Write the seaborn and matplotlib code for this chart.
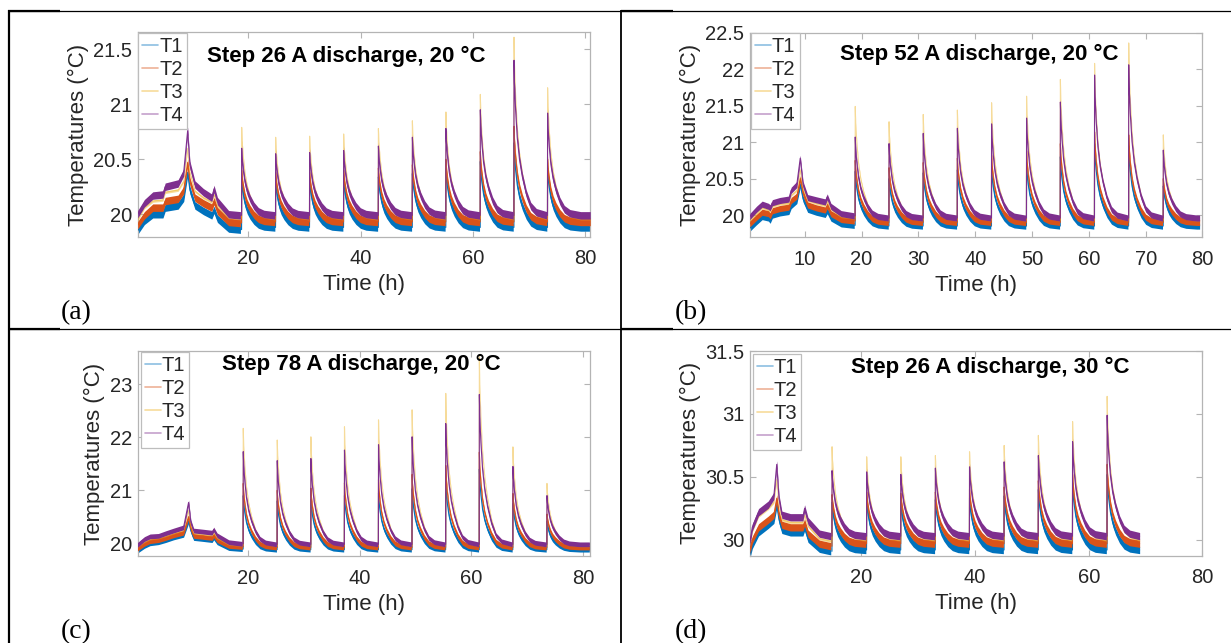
import numpy as np
import pandas as pd
import matplotlib
matplotlib.use("Agg")
import matplotlib.pyplot as plt
import seaborn as sns
from matplotlib.lines import Line2D
from matplotlib.ticker import FormatStrFormatter

# ---------------- data ----------------
SERIES = ["T1", "T2", "T3", "T4"]
COLORS = {"T1": "#0072BD", "T2": "#D95319", "T3": "#EDB120", "T4": "#7E2F8E"}

# shape of one relaxation after a discharge pulse (hours after start, share of excess)
DECAY_OFFSET = [0.0, 0.02, 0.1, 0.3, 0.6, 1.0, 1.5, 2.2, 3.0, 4.0, 5.9]
DECAY_FRAC = [0.0, 1.0, 0.85, 0.68, 0.5, 0.36, 0.25, 0.14, 0.06, 0.02, 0.0]

# ---- (a) Step 26 A discharge, 20 °C
A_TITLE = "Step 26 A discharge, 20 °C"
A_PRE_T = [0.3, 1.5, 3.0, 4.8, 5.2, 7.5, 8.5, 9.2, 9.6, 10.5, 12.0, 13.5, 13.9, 14.5, 16.5, 18.6]
A_PRE_T1 = [19.85, 19.94, 20.00, 20.00, 20.06, 20.08, 20.15, 20.38, 20.22, 20.08, 20.03, 19.99, 20.04, 19.96, 19.87, 19.86]
A_PRE_T2 = [19.90, 19.99, 20.06, 20.06, 20.12, 20.14, 20.22, 20.47, 20.30, 20.15, 20.10, 20.06, 20.12, 20.03, 19.93, 19.92]
A_PRE_T3 = [19.95, 20.06, 20.12, 20.13, 20.20, 20.22, 20.30, 20.60, 20.38, 20.21, 20.15, 20.11, 20.18, 20.08, 19.97, 19.96]
A_PRE_T4 = [20.00, 20.10, 20.17, 20.18, 20.25, 20.28, 20.38, 20.76, 20.45, 20.27, 20.20, 20.15, 20.23, 20.12, 20.00, 19.99]
A_PULSE_T = [18.8, 24.85, 30.9, 36.96, 43.15, 49.2, 55.17, 61.3, 67.3, 73.28]
A_PEAK_T1 = [20.32, 20.30, 20.31, 20.32, 20.34, 20.37, 20.42, 20.48, 20.65, 20.42]
A_PEAK_T2 = [20.40, 20.38, 20.38, 20.40, 20.42, 20.45, 20.50, 20.57, 20.80, 20.50]
A_PEAK_T3 = [20.79, 20.70, 20.71, 20.73, 20.78, 20.85, 20.93, 21.09, 21.61, 21.15]
A_PEAK_T4 = [20.60, 20.55, 20.56, 20.58, 20.62, 20.70, 20.78, 20.95, 21.40, 20.92]
A_BASE = [19.88, 19.93, 19.96, 19.99]
A_END = 80.9
A_XLIM = (0.27, 80.9)
A_YLIM = (19.796, 21.653)
A_XTICKS = [20, 40, 60, 80]
A_YTICKS = [20, 20.5, 21, 21.5]

# ---- (b) Step 52 A discharge, 20 °C
B_TITLE = "Step 52 A discharge, 20 °C"
B_PRE_T = [0.32, 1.5, 2.5, 3.6, 3.9, 4.3, 5.6, 7.2, 7.6, 8.6, 9.2, 9.7, 10.5, 12.0, 13.6, 13.95, 14.6, 16.4, 18.7]
B_PRE_T1 = [19.82, 19.91, 19.98, 19.96, 19.93, 20.00, 20.03, 20.05, 20.13, 20.20, 20.42, 20.22, 20.08, 20.04, 20.01, 20.06, 19.96, 19.88, 19.86]
B_PRE_T2 = [19.88, 19.97, 20.04, 20.02, 19.99, 20.06, 20.09, 20.11, 20.20, 20.26, 20.50, 20.30, 20.14, 20.10, 20.07, 20.13, 20.02, 19.94, 19.92]
B_PRE_T3 = [19.93, 20.02, 20.10, 20.07, 20.05, 20.12, 20.15, 20.16, 20.27, 20.34, 20.62, 20.36, 20.20, 20.16, 20.13, 20.19, 20.08, 19.98, 19.96]
B_PRE_T4 = [19.98, 20.08, 20.15, 20.12, 20.10, 20.17, 20.20, 20.22, 20.34, 20.42, 20.78, 20.42, 20.24, 20.21, 20.18, 20.25, 20.12, 20.02, 19.99]
B_PULSE_T = [18.86, 24.81, 30.83, 36.84, 42.86, 49.02, 54.97, 60.99, 67.0, 73.09]
B_PEAK_T1 = [20.60, 20.50, 20.58, 20.62, 20.65, 20.70, 20.80, 20.98, 20.95, 20.40]
B_PEAK_T2 = [20.75, 20.65, 20.72, 20.78, 20.82, 20.88, 20.98, 21.14, 21.10, 20.50]
B_PEAK_T3 = [21.49, 21.28, 21.38, 21.44, 21.54, 21.63, 21.86, 22.08, 22.36, 21.10]
B_PEAK_T4 = [21.07, 20.98, 21.12, 21.19, 21.25, 21.33, 21.55, 21.92, 22.06, 20.89]
B_BASE = [19.85, 19.90, 19.93, 19.96]
B_END = 79.5
B_XLIM = (0.32, 80.0)
B_YLIM = (19.70, 22.5)
B_XTICKS = [10, 20, 30, 40, 50, 60, 70, 80]
B_YTICKS = [20, 20.5, 21, 21.5, 22, 22.5]

# ---- (c) Step 78 A discharge, 20 °C
C_TITLE = "Step 78 A discharge, 20 °C"
C_PRE_T = [0.26, 1.5, 2.5, 4.0, 5.3, 6.7, 8.5, 9.4, 9.8, 10.3, 12.0, 13.6, 13.9, 14.5, 16.6, 19.0]
C_PRE_T1 = [19.86, 19.95, 20.00, 20.02, 20.06, 20.11, 20.16, 20.42, 20.24, 20.10, 20.08, 20.06, 20.11, 20.02, 19.91, 19.89]
C_PRE_T2 = [19.90, 19.99, 20.04, 20.06, 20.10, 20.15, 20.20, 20.50, 20.28, 20.14, 20.12, 20.10, 20.15, 20.06, 19.95, 19.93]
C_PRE_T3 = [19.94, 20.03, 20.08, 20.10, 20.14, 20.19, 20.25, 20.62, 20.33, 20.19, 20.17, 20.15, 20.20, 20.10, 19.98, 19.96]
C_PRE_T4 = [19.97, 20.08, 20.13, 20.14, 20.19, 20.24, 20.30, 20.77, 20.40, 20.24, 20.22, 20.20, 20.26, 20.15, 20.02, 19.99]
C_PULSE_T = [19.16, 25.24, 31.26, 37.27, 43.36, 49.37, 55.39, 61.4, 67.41, 73.5]
C_PEAK_T1 = [20.90, 20.80, 20.83, 20.90, 20.95, 21.03, 21.17, 21.40, 20.75, 20.42]
C_PEAK_T2 = [21.13, 21.00, 21.04, 21.14, 21.20, 21.30, 21.47, 21.72, 20.94, 20.55]
C_PEAK_T3 = [22.17, 21.95, 22.01, 22.20, 22.33, 22.52, 22.83, 23.52, 21.82, 21.13]
C_PEAK_T4 = [21.73, 21.56, 21.60, 21.76, 21.86, 22.01, 22.26, 22.81, 21.45, 20.90]
C_BASE = [19.88, 19.92, 19.95, 19.98]
C_END = 81.1
C_XLIM = (0.26, 81.2)
C_YLIM = (19.76, 23.63)
C_XTICKS = [20, 40, 60, 80]
C_YTICKS = [20, 21, 22, 23]

# ---- (d) Step 26 A discharge, 30 °C
D_TITLE = "Step 26 A discharge, 30 °C"
D_PRE_T = [0.36, 0.8, 1.9, 3.6, 4.6, 5.1, 5.5, 6.0, 7.5, 9.7, 10.0, 10.6, 12.6, 14.6]
D_PRE_T1 = [29.88, 29.96, 30.06, 30.12, 30.16, 30.28, 30.16, 30.08, 30.06, 30.06, 30.10, 30.01, 29.93, 29.91]
D_PRE_T2 = [29.92, 30.00, 30.10, 30.16, 30.20, 30.33, 30.20, 30.12, 30.10, 30.10, 30.14, 30.05, 29.97, 29.95]
D_PRE_T3 = [29.96, 30.07, 30.19, 30.25, 30.30, 30.48, 30.28, 30.16, 30.14, 30.14, 30.20, 30.11, 30.01, 29.99]
D_PRE_T4 = [29.98, 30.10, 30.22, 30.28, 30.35, 30.60, 30.33, 30.20, 30.18, 30.18, 30.25, 30.15, 30.05, 30.03]
D_PULSE_T = [14.81, 20.9, 26.91, 32.99, 39.0, 45.09, 51.11, 57.13, 63.21]
D_PEAK_T1 = [30.30, 30.32, 30.30, 30.32, 30.33, 30.35, 30.40, 30.45, 30.52]
D_PEAK_T2 = [30.36, 30.38, 30.37, 30.38, 30.40, 30.42, 30.47, 30.52, 30.60]
D_PEAK_T3 = [30.74, 30.66, 30.66, 30.67, 30.70, 30.75, 30.83, 30.94, 31.14]
D_PEAK_T4 = [30.55, 30.54, 30.52, 30.57, 30.58, 30.62, 30.67, 30.78, 30.99]
D_BASE = [29.92, 29.97, 30.00, 30.03]
D_END = 68.95
D_XLIM = (0.36, 80.0)
D_YLIM = (29.875, 31.5)
D_XTICKS = [20, 40, 60, 80]
D_YTICKS = [30, 30.5, 31, 31.5]

# ---------------- assemble long tables ----------------
def build(pre_t, pre, pulse_t, peaks, base, t_end):
    rows = []
    for k, s in enumerate(SERIES):
        seg = 0
        for t, v in zip(pre_t, pre[k]):
            rows.append((s, seg, t, v))
        for i, t0 in enumerate(pulse_t):
            seg += 1
            t_stop = pulse_t[i + 1] - 0.12 if i + 1 < len(pulse_t) else t_end
            start = pre[k][-1] if i == 0 else base[k]
            for off, fr in zip(DECAY_OFFSET, DECAY_FRAC):
                t = t0 + off
                if t >= t_stop:
                    break
                v = start if off == 0 else base[k] + (peaks[k][i] - base[k]) * fr
                rows.append((s, seg, t, v))
            rows.append((s, seg, t_stop, base[k]))
    return pd.DataFrame(rows, columns=["series", "seg", "time", "temp"])

PANELS = [
    dict(label="(a)", title=A_TITLE, df=build(A_PRE_T, [A_PRE_T1, A_PRE_T2, A_PRE_T3, A_PRE_T4], A_PULSE_T,
         [A_PEAK_T1, A_PEAK_T2, A_PEAK_T3, A_PEAK_T4], A_BASE, A_END),
         xlim=A_XLIM, ylim=A_YLIM, xt=A_XTICKS, yt=A_YTICKS, noise=0.034,
         pos=[0.1117, 0.6319, 0.3678, 0.3176], tpos=(0.462, 0.885), lpos=(0.001, 0.998),
         plabel=(61, 313)),
    dict(label="(b)", title=B_TITLE, df=build(B_PRE_T, [B_PRE_T1, B_PRE_T2, B_PRE_T3, B_PRE_T4], B_PULSE_T,
         [B_PEAK_T1, B_PEAK_T2, B_PEAK_T3, B_PEAK_T4], B_BASE, B_END),
         xlim=B_XLIM, ylim=B_YLIM, xt=B_XTICKS, yt=B_YTICKS, noise=0.042,
         pos=[0.6091, 0.6314, 0.3677, 0.3177], tpos=(0.508, 0.894), lpos=(0.002, 0.997),
         plabel=(675, 313)),
    dict(label="(c)", title=C_TITLE, df=build(C_PRE_T, [C_PRE_T1, C_PRE_T2, C_PRE_T3, C_PRE_T4], C_PULSE_T,
         [C_PEAK_T1, C_PEAK_T2, C_PEAK_T3, C_PEAK_T4], C_BASE, C_END),
         xlim=C_XLIM, ylim=C_YLIM, xt=C_XTICKS, yt=C_YTICKS, noise=0.045,
         pos=[0.1117, 0.1353, 0.3675, 0.3188], tpos=(0.494, 0.935), lpos=(0.007, 0.995),
         plabel=(61, 632)),
    dict(label="(d)", title=D_TITLE, df=build(D_PRE_T, [D_PRE_T1, D_PRE_T2, D_PRE_T3, D_PRE_T4], D_PULSE_T,
         [D_PEAK_T1, D_PEAK_T2, D_PEAK_T3, D_PEAK_T4], D_BASE, D_END),
         xlim=D_XLIM, ylim=D_YLIM, xt=D_XTICKS, yt=D_YTICKS, noise=0.029,
         pos=[0.6091, 0.1358, 0.3677, 0.3183], tpos=(0.531, 0.918), lpos=(0.006, 0.985),
         plabel=(675, 632)),
]

# ---------------- drawing ----------------
sns.set_theme(style="white")
plt.rcParams["font.family"] = ["Liberation Sans", "DejaVu Sans"]

W, H = 1231, 643
fig = plt.figure(figsize=(W / 100, H / 100), dpi=100)
fig.patch.set_facecolor("white")

GRAY = "#b4b4b4"
TXT = "#262626"

for p in PANELS:
    ax = fig.add_axes(p["pos"])
    ax.set_facecolor("white")
    df = p["df"]
    for k, s in enumerate(SERIES):
        sub = df[df["series"] == s]
        alpha = 0.45 if s == "T3" else 1.0
        hw = p["noise"] * (0.35 if s == "T3" else 1.0)
        for _, g in sub.groupby("seg"):
            ax.fill_between(g["time"], g["temp"] - hw, g["temp"] + hw, color=COLORS[s],
                            lw=0, alpha=alpha, zorder=2 + 2 * k)
        sns.lineplot(data=sub, x="time", y="temp", units="seg", estimator=None, sort=False,
                     color=COLORS[s], lw=0.8, alpha=alpha, legend=False, ax=ax, zorder=3 + 2 * k)
    ax.set_xlim(*p["xlim"])
    ax.set_ylim(*p["ylim"])
    ax.set_xticks(p["xt"])
    ax.set_yticks(p["yt"])
    ax.yaxis.set_major_formatter(FormatStrFormatter("%g"))
    ax.tick_params(axis="both", which="major", direction="in", length=4, width=0.8,
                   color=GRAY, labelcolor=TXT, labelsize=14.5, top=True, right=True,
                   left=True, bottom=True)
    ax.tick_params(axis="x", pad=9)
    ax.tick_params(axis="y", pad=4)
    for sp in ax.spines.values():
        sp.set_color(GRAY)
        sp.set_linewidth(0.9)
    ax.set_xlabel("Time (h)", fontsize=16, color=TXT, labelpad=4.5)
    ax.set_ylabel("Temperatures (°C)", fontsize=16, color=TXT, labelpad=3)
    ax.text(p["tpos"][0], p["tpos"][1], p["title"], transform=ax.transAxes, ha="center",
            va="center", fontsize=16, fontweight="bold", color="black", zorder=20)
    handles = [Line2D([], [], color=COLORS[s], lw=1.2, alpha=0.45) for s in SERIES]
    leg = ax.legend(handles, SERIES, loc="upper left", bbox_to_anchor=p["lpos"],
                    borderaxespad=0, frameon=True, fancybox=False, framealpha=1,
                    edgecolor="#bdbdbd", fontsize=14.5, handlelength=0.8,
                    handletextpad=0.05, labelspacing=0.2, borderpad=0.2)
    leg.get_frame().set_linewidth(0.9)
    for t in leg.get_texts():
        t.set_color(TXT)
    leg.set_zorder(30)
    fig.text(p["plabel"][0] / W, 1 - p["plabel"][1] / H, p["label"], fontsize=20,
             family=["Liberation Serif", "DejaVu Serif"], ha="left", va="center", color="black")

# table borders
def hline(y, x0, x1, lw):
    fig.add_artist(Line2D([x0 / W, x1 / W], [1 - y / H, 1 - y / H], color="black", lw=lw,
                          transform=fig.transFigure, solid_capstyle="butt"))

def vline(x, y0, y1, lw):
    fig.add_artist(Line2D([x / W, x / W], [1 - y0 / H, 1 - y1 / H], color="black", lw=lw,
                          transform=fig.transFigure, solid_capstyle="butt"))

hline(10.5, 8, 1231, 0.9)
hline(10.8, 8, 60, 1.6)
hline(10.8, 621, 673, 1.6)
hline(329, 8, 1231, 0.9)
hline(329.3, 8, 60, 1.6)
hline(329.3, 621, 673, 1.6)
vline(9, 10, 643, 1.6)
vline(621, 10, 643, 1.3)

fig.savefig("out.png", dpi=100, facecolor="white")
